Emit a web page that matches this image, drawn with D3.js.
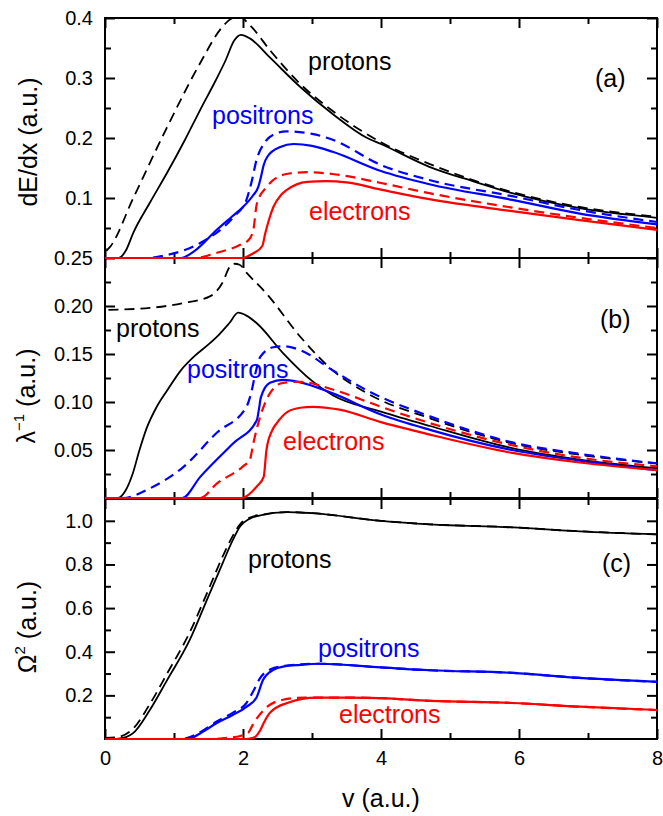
<!DOCTYPE html>
<html>
<head>
<meta charset="utf-8">
<script src="https://cdn.jsdelivr.net/npm/d3@7"></script>
<style>
  body { margin: 0; background: #fff; }
  svg { font-family: "Liberation Sans", Arial, sans-serif; }
</style>
</head>
<body>
<svg id="chart" width="663" height="816"></svg>
<script>
// [v, value] pairs
// panel (a): dE/dx
const aProtonsSolid = [[0,0],[0.2,0],[0.3,0.012],[0.41,0.042],[0.65,0.092],[0.9,0.142],[1.15,0.195],[1.38,0.247],[1.6,0.295],[1.75,0.33],[1.87,0.362],[1.97,0.372],[2.1,0.366],[2.4,0.333],[2.83,0.285],[3.3,0.24],[3.8,0.2],[4.0,0.19],[4.7,0.152],[5.36,0.127],[5.9,0.108],[6.88,0.083],[8,0.067]];
const aProtonsDash = [[0.02,0.012],[0.07,0.018],[0.41,0.1],[0.9,0.218],[1.38,0.325],[1.7,0.385],[1.85,0.4],[1.95,0.402],[2.1,0.388],[2.4,0.345],[2.83,0.29],[3.3,0.245],[4.0,0.193],[4.7,0.157],[5.9,0.11],[6.88,0.085],[8,0.069]];
const aPositronsSolid = [[0,0],[1.1,0],[1.3,0.012],[1.62,0.047],[1.85,0.07],[2.0,0.085],[2.15,0.105],[2.22,0.118],[2.26,0.135],[2.3,0.155],[2.36,0.17],[2.54,0.185],[2.73,0.19],[3.0,0.187],[3.3,0.177],[4.0,0.145],[4.7,0.123],[5.9,0.097],[6.88,0.074],[8,0.056]];
const aPositronsDash = [[0,0],[0.6,0],[0.9,0.005],[1.38,0.025],[1.86,0.068],[2.05,0.097],[2.12,0.125],[2.2,0.165],[2.3,0.19],[2.49,0.208],[2.63,0.211],[3.0,0.207],[3.3,0.197],[4.0,0.155],[4.7,0.13],[5.9,0.103],[6.88,0.08],[8,0.06]];
const aElectronsSolid = [[0,0],[1.98,0],[2.15,0.008],[2.28,0.02],[2.32,0.04],[2.38,0.065],[2.44,0.085],[2.55,0.105],[2.63,0.113],[2.93,0.127],[3.2,0.128],[3.5,0.126],[4.0,0.114],[4.7,0.098],[5.9,0.078],[6.88,0.063],[8,0.047]];
const aElectronsDash = [[0,0],[1.3,0],[1.6,0.008],[1.96,0.022],[2.08,0.03],[2.15,0.047],[2.2,0.09],[2.34,0.118],[2.63,0.14],[2.93,0.143],[3.3,0.14],[4.0,0.125],[4.7,0.108],[5.9,0.084],[6.88,0.067],[8,0.05]];

// panel (b): inverse mean free path
const bProtonsSolid = [[0,0],[0.19,0],[0.3,0.008],[0.4,0.025],[0.5,0.05],[0.6,0.072],[0.75,0.095],[0.9,0.112],[1.1,0.133],[1.3,0.148],[1.5,0.16],[1.65,0.17],[1.8,0.182],[1.93,0.193],[2.05,0.19],[2.2,0.182],[2.58,0.151],[3.0,0.122],[3.3,0.107],[4.0,0.09],[4.71,0.075],[5.9,0.052],[6.88,0.04],[8,0.031]];
const bProtonsDash = [[0.05,0.196],[0.65,0.198],[1.13,0.203],[1.52,0.21],[1.7,0.224],[1.81,0.241],[1.88,0.244],[1.95,0.243],[2.06,0.234],[2.34,0.213],[2.83,0.168],[3.3,0.133],[3.8,0.109],[4.71,0.083],[5.9,0.057],[6.88,0.045],[8,0.036]];
const bPositronsSolid = [[0,0],[1.12,0],[1.38,0.022],[1.86,0.057],[2.2,0.081],[2.23,0.092],[2.26,0.105],[2.39,0.12],[2.58,0.123],[2.8,0.121],[3.3,0.109],[4.0,0.087],[4.71,0.071],[5.9,0.05],[6.88,0.039],[8,0.029]];
const bPositronsDash = [[0,0],[0.26,0],[0.65,0.01],[1.13,0.032],[1.62,0.068],[2.05,0.095],[2.12,0.11],[2.18,0.13],[2.25,0.147],[2.44,0.157],[2.6,0.158],[2.83,0.154],[3.3,0.133],[3.8,0.112],[4.71,0.085],[5.9,0.058],[6.88,0.046],[8,0.036]];
const bElectronsSolid = [[0,0],[1.98,0],[2.2,0.012],[2.3,0.022],[2.34,0.05],[2.42,0.07],[2.49,0.078],[2.65,0.09],[2.83,0.094],[3.01,0.095],[3.4,0.092],[4.0,0.079],[4.71,0.066],[5.9,0.047],[6.88,0.037],[8,0.029]];
const bElectronsDash = [[0,0],[1.38,0],[1.62,0.015],[2.0,0.033],[2.1,0.04],[2.15,0.057],[2.25,0.085],[2.39,0.109],[2.58,0.12],[2.83,0.121],[3.3,0.113],[4.0,0.095],[4.71,0.078],[5.9,0.055],[6.88,0.042],[8,0.033]];

// panel (c): straggling
const cProtonsSolid = [[0,0],[0.2,0.002],[0.4,0.025],[0.65,0.133],[0.9,0.27],[1.23,0.455],[1.48,0.64],[1.71,0.81],[1.85,0.91],[1.96,0.975],[2.1,1.01],[2.25,1.025],[2.64,1.04],[3.0,1.035],[4.0,1.0],[4.71,0.984],[5.91,0.97],[6.88,0.952],[8,0.938]];
const cProtonsDash = [[0,0.005],[0.2,0.01],[0.4,0.045],[0.65,0.16],[0.9,0.3],[1.23,0.49],[1.48,0.67],[1.71,0.84],[1.85,0.93],[1.96,0.985],[2.1,1.015],[2.3,1.03],[2.64,1.04],[3.0,1.035],[4.0,1.0],[4.71,0.984],[5.91,0.97],[6.88,0.952],[8,0.938]];
const cPositronsSolid = [[0,0],[1.2,0],[1.4,0.03],[1.62,0.073],[1.85,0.11],[2.05,0.147],[2.2,0.193],[2.29,0.27],[2.44,0.317],[2.6,0.333],[2.83,0.34],[3.1,0.345],[4.0,0.328],[4.71,0.315],[5.91,0.303],[6.88,0.28],[8,0.262]];
const cPositronsDash = [[0,0],[1.1,0],[1.4,0.035],[1.62,0.08],[1.85,0.12],[2.05,0.165],[2.15,0.22],[2.25,0.28],[2.4,0.32],[2.6,0.335],[2.9,0.343],[3.1,0.345],[4.0,0.328],[4.71,0.315],[5.91,0.303],[6.88,0.28],[8,0.262]];
const cElectronsSolid = [[0,0],[2.05,0],[2.15,0.005],[2.25,0.04],[2.3,0.073],[2.39,0.12],[2.64,0.165],[3.07,0.19],[3.55,0.19],[4.0,0.187],[4.71,0.175],[5.91,0.165],[6.88,0.148],[8,0.133]];
const cElectronsDash = [[0,0],[1.5,0],[1.8,0.006],[2.0,0.018],[2.08,0.03],[2.15,0.07],[2.3,0.133],[2.58,0.18],[2.9,0.19],[3.55,0.19],[4.0,0.187],[4.71,0.175],[5.91,0.165],[6.88,0.148],[8,0.133]];

const xMajor = [0, 2, 4, 6, 8];
const xMinor = [1, 3, 5, 7];
const aMajor = [0.1, 0.2, 0.3, 0.4];
const aMinor = [0.05, 0.15, 0.25, 0.35];
const bMajor = [0.05, 0.10, 0.15, 0.20, 0.25];
const bMinor = [0.025, 0.075, 0.125, 0.175, 0.225];
const cMajor = [0.2, 0.4, 0.6, 0.8, 1.0];
const cMinor = [0.1, 0.3, 0.5, 0.7, 0.9];

const svg = d3.select("#chart");
const left = 105, right = 657;

const x = d3.scaleLinear().domain([0, 8]).range([left, right]);

const panels = [
  { id: "a", top: 18, bottom: 258, domain: [0, 0.4], major: aMajor, minor: aMinor, fmt: d3.format(".1f"),
    series: [[aProtonsSolid, "#000", false], [aProtonsDash, "#000", true], [aPositronsSolid, "#0000ff", false],
             [aPositronsDash, "#0000ff", true], [aElectronsSolid, "#ff0000", false], [aElectronsDash, "#ff0000", true]],
    labels: [["protons", 308, 70, "#000"], ["positrons", 212, 124, "#0000ff"], ["electrons", 309, 220, "#ff0000"], ["(a)", 595, 87, "#000"]] },
  { id: "b", top: 258, bottom: 498, domain: [0, 0.25], major: bMajor, minor: bMinor, fmt: d3.format(".2f"),
    series: [[bProtonsSolid, "#000", false], [bProtonsDash, "#000", true], [bPositronsSolid, "#0000ff", false],
             [bPositronsDash, "#0000ff", true], [bElectronsSolid, "#ff0000", false], [bElectronsDash, "#ff0000", true]],
    labels: [["protons", 116, 337, "#000"], ["positrons", 187, 378, "#0000ff"], ["electrons", 283, 450, "#ff0000"], ["(b)", 600, 328, "#000"]] },
  { id: "c", top: 499, bottom: 739, domain: [0, 1.1], major: cMajor, minor: cMinor, fmt: d3.format(".1f"),
    series: [[cProtonsSolid, "#000", false], [cProtonsDash, "#000", true], [cPositronsSolid, "#0000ff", false],
             [cPositronsDash, "#0000ff", true], [cElectronsSolid, "#ff0000", false], [cElectronsDash, "#ff0000", true]],
    labels: [["protons", 248, 568, "#000"], ["positrons", 318, 657, "#0000ff"], ["electrons", 339, 723, "#ff0000"], ["(c)", 602, 572, "#000"]] }
];

const frameLayer = svg.append("g");
const curveLayer = svg.append("g");

panels.forEach(function(p) {
  const y = d3.scaleLinear().domain(p.domain).range([p.bottom, p.top]);
  const g = frameLayer.append("g");

  // ticks on all four sides, pointing in
  const axes = [
    [d3.axisLeft(y).tickValues(p.major).tickSize(-10).tickPadding(12).tickFormat(p.fmt), left, 0],
    [d3.axisLeft(y).tickValues(p.minor).tickSize(-6).tickFormat(""), left, 0],
    [d3.axisRight(y).tickValues(p.major).tickSize(-10).tickFormat(""), right, 0],
    [d3.axisRight(y).tickValues(p.minor).tickSize(-6).tickFormat(""), right, 0],
    [d3.axisTop(x).tickValues(xMajor).tickSize(-10).tickFormat(""), 0, p.top],
    [d3.axisTop(x).tickValues(xMinor).tickSize(-6).tickFormat(""), 0, p.top],
    [d3.axisBottom(x).tickValues(xMajor).tickSize(-10).tickPadding(12).tickFormat(p.id === "c" ? d3.format("d") : ""), 0, p.bottom],
    [d3.axisBottom(x).tickValues(xMinor).tickSize(-6).tickFormat(""), 0, p.bottom]
  ];
  axes.forEach(function(a) {
    const ax = g.append("g")
      .attr("transform", "translate(" + a[1] + "," + a[2] + ")")
      .call(a[0]);
    ax.select(".domain").remove();
    ax.selectAll("line").attr("stroke", "#000").attr("stroke-width", 2);
    ax.selectAll("text").attr("fill", "#000").style("font-size", "20px");
  });

  g.append("rect")
    .attr("x", left).attr("y", p.top)
    .attr("width", right - left).attr("height", p.bottom - p.top)
    .attr("fill", "none").attr("stroke", "#000").attr("stroke-width", 2);

  // curves sit above every frame so the zero stretches show along the bottom edge
  const cg = curveLayer.append("g");
  cg.append("clipPath").attr("id", "clip-" + p.id)
    .append("rect")
    .attr("x", left - 1).attr("y", p.top)
    .attr("width", right - left + 2).attr("height", p.bottom - p.top + 1.5);

  const line = d3.line()
    .x(d => x(d[0]))
    .y(d => y(d[1]))
    .curve(d3.curveMonotoneX);

  cg.append("g").attr("clip-path", "url(#clip-" + p.id + ")")
    .selectAll("path")
    .data(p.series)
    .join("path")
    .attr("d", d => line(d[0]))
    .attr("fill", "none")
    .attr("stroke", d => d[1])
    .attr("stroke-width", d => d[1] === "#000" ? 1.8 : 2.2)
    .attr("stroke-dasharray", d => d[2] ? "10,6" : null);

  cg.selectAll(".note")
    .data(p.labels)
    .join("text")
    .attr("class", "note")
    .attr("x", d => d[1])
    .attr("y", d => d[2])
    .attr("fill", d => d[3])
    .style("font-size", "25px")
    .text(d => d[0]);
});

// axis titles
svg.append("text")
  .attr("transform", "translate(37,142) rotate(-90)")
  .attr("text-anchor", "middle")
  .style("font-size", "25px")
  .text("dE/dx (a.u.)");

const lam = svg.append("text")
  .attr("transform", "translate(35,396) rotate(-90)")
  .attr("text-anchor", "middle")
  .style("font-size", "25px");
lam.append("tspan").text("λ");
lam.append("tspan").attr("dy", -11).style("font-size", "15px").text("−1");
lam.append("tspan").attr("dy", 11).text(" (a.u.)");

const om = svg.append("text")
  .attr("transform", "translate(36,627) rotate(-90)")
  .attr("text-anchor", "middle")
  .style("font-size", "25px");
om.append("tspan").text("Ω");
om.append("tspan").attr("dy", -11).style("font-size", "15px").text("2");
om.append("tspan").attr("dy", 11).text(" (a.u.)");

svg.append("text")
  .attr("x", (left + right) / 2)
  .attr("y", 807)
  .attr("text-anchor", "middle")
  .style("font-size", "25px")
  .text("v (a.u.)");
</script>
</body>
</html>
